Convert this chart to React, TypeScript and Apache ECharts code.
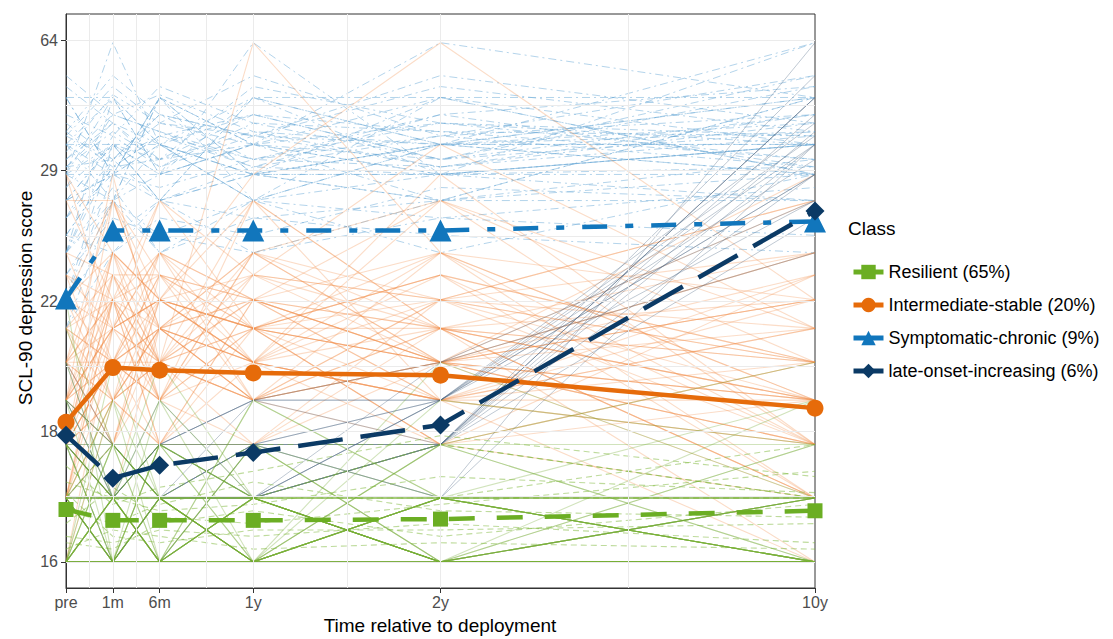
import React, { useEffect, useRef } from "react";
import * as echarts from "echarts";

// ---- axes ----
const TIME_X = [0, 1, 2, 4, 8, 16];
const TIME_LABELS = ["pre", "1m", "6m", "1y", "2y", "10y"];
const Y_TICK_LABELS = ["16", "18", "22", "29", "64"];

// transformed y scale (score -> axis units), calibrated from the reference axis
const SCALE_SCORE = [16, 17, 18, 19, 20, 21, 22, 23, 24, 27, 29, 33, 44, 64];
const SCALE_UNIT = [0, 0.49, 0.9, 1.24, 1.53, 1.79, 2.01, 2.2, 2.37, 2.77, 2.97, 3.2, 3.56, 3.98];

// ---- class mean trajectories (SCL-90 depression score) ----
const resilient = [16.82, 16.65, 16.65, 16.65, 16.67, 16.8];
const intermediate = [18.5, 19.86, 19.79, 19.72, 19.66, 18.82];
const symptomatic = [22.05, 25.28, 25.28, 25.28, 25.28, 25.8];
const lateOnset = [18.21, 17.37, 17.61, 17.85, 18.44, 26.4];

// ---- individual trajectories ----
const indivResilient = [
  [16, 16, 16, 16, 16, 16], [16, 17, 16, 16, 16, 16], [17, 16, 16, 17, 16, 16],
  [16, 16, 17, 16, 17, 17], [18, 17, 16, 16, 16, 17], [17, 17, 17, 17, 16, 16],
  [16, 18, 17, 16, 16, 16], [17, 16, 18, 17, 17, 16], [19, 17, 16, 17, 16, 18],
  [16, 16, 16, 18, 17, 17], [18, 16, 17, 16, 18, 16], [16, 17, 17, 17, 17, 17],
  [17, 18, 16, 16, 17, 19], [20, 17, 17, 16, 16, 16], [16, 19, 16, 17, 16, 16],
  [17, 17, 16, 19, 17, 16], [16, 16, 19, 17, 16, 17], [18, 18, 17, 17, 17, 16],
  [16, 17, 18, 18, 16, 17], [17, 16, 16, 16, 19, 18], [21, 18, 17, 16, 17, 16],
  [16, 20, 17, 16, 16, 17], [19, 16, 18, 16, 17, 17], [17, 17, 17, 16, 16, 19],
  [16, 16, 16, 17, 18, 20], [18, 17, 20, 17, 16, 16], [16, 18, 16, 19, 17, 17],
  [17, 16, 17, 16, 18, 18], [22, 16, 16, 17, 16, 16], [16, 17, 16, 16, 20, 17],
  [16, 16, 17, 17, 16, 16], [17, 17, 16, 16, 17, 17], [16, 18, 18, 17, 16, 16],
  [16, 17, 16, 17, 16, 17], [17, 16, 17, 16, 17, 16], [16, 16, 18, 16, 16, 18],
  [18, 17, 16, 18, 16, 16], [17, 19, 17, 16, 17, 16], [16, 16, 16, 16, 17, 16],
  [19, 18, 17, 17, 16, 17], [16, 17, 19, 16, 18, 16], [17, 16, 16, 18, 16, 17],
  [18, 16, 18, 17, 17, 16],
];
const indivResilientDashed = [
  [17, 17, 17, 17, 18, 17], [16, 17, 16, 17, 17, 16], [18, 17, 17, 18, 18, 17],
  [17, 16, 16, 16, 17, 17], [16, 16, 17, 17, 16, 16], [17, 18, 17, 17, 17, 18],
  [18, 16, 16, 17, 17, 16], [16, 17, 17, 16, 17, 17], [17, 17, 18, 17, 16, 16],
  [16.4, 16.3, 16.5, 16.4, 16.6, 16.3], [16.8, 16.6, 16.9, 17.3, 16.8, 16.7],
  [17.3, 17, 16.8, 16.9, 17.4, 17.1], [16.2, 16.5, 16.4, 16.2, 16.3, 16.2],
  [16.6, 17.2, 16.7, 16.6, 16.9, 17.5], [17.6, 16.9, 17.2, 17.5, 18.2, 17.4],
  [16.3, 16.2, 16.6, 16.8, 16.4, 16.9], [17.1, 16.4, 16.3, 16.5, 16.5, 16.6],
];
const indivIntermediate = [
  [18, 20, 21, 19, 20, 18], [20, 22, 19, 21, 18, 19], [17, 19, 20, 22, 21, 17],
  [19, 21, 22, 20, 19, 20], [18, 24, 20, 19, 22, 18], [21, 20, 23, 21, 20, 21],
  [17, 22, 19, 24, 21, 19], [18, 19, 24, 20, 23, 17], [22, 21, 20, 27, 19, 18],
  [19, 23, 21, 19, 24, 22], [20, 18, 22, 21, 20, 24], [18, 27, 21, 20, 19, 19],
  [17, 20, 18, 22, 27, 18], [23, 19, 20, 23, 21, 20], [19, 21, 27, 21, 18, 17],
  [18, 17, 21, 19, 22, 27], [20, 24, 19, 18, 21, 19], [16, 21, 22, 21, 20, 18],
  [21, 22, 18, 20, 19, 21], [18, 20, 20, 24, 20, 23], [17, 23, 19, 21, 21, 17],
  [24, 20, 21, 19, 18, 20], [19, 18, 23, 22, 20, 19], [18, 22, 20, 64, 24, 19],
  [20, 21, 22, 29, 64, 22], [17, 19, 21, 20, 29, 18], [19, 29, 20, 21, 22, 20],
  [18, 20, 19, 23, 33, 21], [22, 24, 22, 20, 21, 16], [16, 19, 21, 22, 19, 22],
  [20, 18, 20, 21, 23, 18], [18, 21, 24, 19, 20, 27], [21, 20, 19, 27, 21, 17],
  [17, 22, 21, 20, 18, 20], [19, 20, 22, 21, 24, 19], [27, 22, 20, 19, 20, 18],
  [18, 23, 23, 20, 19, 16], [20, 19, 18, 18, 22, 21], [29, 21, 24, 22, 20, 19],
  [21, 19, 22, 23, 20, 24], [19, 24, 21, 20, 27, 21], [17, 18, 22, 20, 19, 23],
  [22, 20, 24, 22, 21, 19], [18, 22, 18, 21, 23, 20], [20, 27, 23, 19, 20, 22],
  [19, 20, 19, 24, 22, 27], [23, 21, 22, 20, 24, 18], [18, 19, 20, 19, 21, 24],
  [24, 23, 20, 22, 19, 21], [20, 22, 27, 23, 22, 19], [17, 21, 20, 18, 20, 22],
  [21, 18, 21, 24, 27, 20], [19, 22, 23, 21, 18, 23], [22, 19, 18, 22, 24, 17],
  [18, 24, 22, 27, 21, 20], [20, 20, 21, 22, 20, 29], [27, 27, 22, 21, 23, 20],
  [19, 21, 19, 20, 22, 24], [23, 22, 24, 21, 19, 18], [21, 23, 20, 19, 21, 22],
  [18, 20, 23, 22, 20, 17], [20, 19, 21, 23, 22, 20], [22, 27, 21, 24, 20, 22],
  [29, 24, 22, 21, 20, 19],
];
const indivSymptomatic = [
  [22, 29, 33, 27, 29, 33], [27, 33, 29, 44, 33, 29], [33, 27, 44, 29, 27, 44],
  [24, 44, 29, 33, 44, 33], [29, 33, 27, 29, 29, 64], [44, 29, 33, 27, 33, 29],
  [22, 27, 44, 33, 29, 27], [33, 44, 29, 29, 44, 44], [27, 29, 27, 44, 33, 33],
  [29, 64, 33, 29, 27, 29], [24, 33, 29, 33, 64, 44], [44, 44, 33, 44, 29, 33],
  [33, 29, 44, 29, 33, 64], [27, 33, 33, 27, 44, 29], [29, 27, 29, 64, 29, 33],
  [22, 33, 27, 29, 33, 44], [44, 29, 44, 33, 29, 29], [29, 44, 33, 29, 33, 33],
  [27, 29, 29, 33, 27, 44], [33, 33, 27, 44, 44, 29], [23, 27, 33, 29, 29, 33],
  [29, 29, 44, 27, 33, 44], [21, 24, 27, 24, 27, 27], [24, 27, 24, 27, 24, 29],
  [26, 31, 38, 35, 30, 40], [31, 38, 30, 35, 48, 36], [25, 30, 35, 40, 31, 52],
  [36, 52, 40, 31, 35, 30], [30, 36, 31, 48, 38, 35], [28, 40, 45, 36, 30, 38],
  [38, 31, 35, 30, 40, 48], [26, 35, 30, 38, 36, 31], [35, 48, 38, 33, 31, 40],
  [30, 31, 40, 35, 52, 38], [48, 38, 31, 40, 36, 35], [31, 40, 36, 30, 35, 52],
  [25, 30, 31, 33, 38, 31], [40, 35, 48, 38, 31, 36], [36, 30, 35, 31, 40, 30],
  [32, 45, 38, 52, 35, 40], [28, 33, 31, 36, 33, 38], [52, 40, 36, 31, 38, 33],
  [30, 38, 33, 40, 31, 48], [35, 31, 40, 35, 33, 36], [26, 29, 28, 31, 30, 35],
  [24, 31, 27, 30, 29, 30], [23, 26, 25, 27, 26, 28], [22, 25, 27, 26, 25, 24],
  [25, 24, 26, 25, 28, 27], [21, 27, 25, 24, 26, 25], [24, 28, 24, 26, 27, 31],
];
const indivLateOnset = [
  [18, 17, 17, 18, 19, 33], [17, 16, 17, 17, 18, 29], [19, 18, 17, 18, 18, 44],
  [18, 17, 18, 17, 19, 27], [17, 17, 16, 18, 17, 33], [20, 17, 18, 19, 18, 44],
  [18, 16, 17, 17, 19, 29], [16, 17, 18, 18, 18, 33], [19, 18, 17, 17, 20, 27],
  [17, 16, 17, 18, 17, 64], [18, 17, 19, 17, 18, 44], [20, 18, 18, 19, 19, 29],
  [17, 17, 18, 17, 19, 38], [19, 17, 17, 18, 18, 52], [18, 18, 17, 19, 20, 24],
  [16, 16, 17, 17, 18, 36], [18, 17, 18, 18, 19, 31], [17, 18, 17, 17, 18, 40],
  [19, 17, 18, 19, 19, 35], [17, 16, 16, 17, 18, 26],
];

// ---- styles ----
const C_GREEN = "#6BAE23";
const C_ORANGE = "#E66B0A";
const C_BLUE = "#1176BC";
const C_NAVY = "#0B3A65";
const FONT = "'Liberation Sans', Arial, Helvetica, sans-serif";

function toUnit(s: number): number {
  if (s <= SCALE_SCORE[0]) return SCALE_UNIT[0];
  for (let i = 1; i < SCALE_SCORE.length; i++) {
    if (s <= SCALE_SCORE[i]) {
      const a = SCALE_SCORE[i - 1], b = SCALE_SCORE[i];
      return SCALE_UNIT[i - 1] + ((s - a) / (b - a)) * (SCALE_UNIT[i] - SCALE_UNIT[i - 1]);
    }
  }
  return SCALE_UNIT[SCALE_UNIT.length - 1];
}

const toPoints = (vals: number[]) => TIME_X.map((x, i) => [x, toUnit(vals[i])]);

function bgSeries(list: number[][], key: string, color: string, opacity: number, type: any, width: number) {
  return list.map((vals, i) => ({
    name: `${key}-${i}`,
    type: "line",
    data: toPoints(vals),
    symbol: "none",
    silent: true,
    z: 2,
    lineStyle: { color, opacity, width, type },
  }));
}

const MAIN = [
  { name: "Resilient (65%)", data: resilient, color: C_GREEN, symbol: "rect", size: 15, dash: [26, 22] as any },
  { name: "Intermediate-stable (20%)", data: intermediate, color: C_ORANGE, symbol: "circle", size: 17, dash: "solid" as any },
  { name: "Symptomatic-chronic (9%)", data: symptomatic, color: C_BLUE, symbol: "triangle", size: 22, dash: [25, 18, 8, 18] as any },
  { name: "late-onset-increasing (6%)", data: lateOnset, color: C_NAVY, symbol: "diamond", size: 19, dash: [45, 18] as any },
];

const X_GRID = [0.5, 1, 1.5, 2, 3, 4, 6, 8, 12];
const Y_GRID = [0, 0.5, 1, 1.5, 2, 2.5, 3, 3.5, 4];

export default function App() {
  const ref = useRef<HTMLDivElement>(null);
  useEffect(() => {
    const chart = echarts.init(ref.current!, null, { renderer: "svg" });
    const series: any[] = [
      {
        name: "grid",
        type: "line",
        data: [[0, -0.2]],
        symbol: "none",
        silent: true,
        z: 1,
        lineStyle: { opacity: 0 },
        markLine: {
          silent: true,
          symbol: ["none", "none"],
          label: { show: false },
          lineStyle: { color: "#EBEBEB", width: 1, type: "solid" },
          data: [
            ...X_GRID.map((v) => ({ xAxis: v })),
            ...Y_GRID.map((v) => ({ yAxis: v })),
          ],
        },
      },
      ...bgSeries(indivSymptomatic, "sc", "#6AAAD8", 0.5, [8, 4, 2, 4], 1),
      ...bgSeries(indivIntermediate, "is", "#F28C44", 0.3, "solid", 1.1),
      ...bgSeries(indivLateOnset, "lo", "#4A6580", 0.35, "solid", 1),
      ...bgSeries(indivResilient, "rs", "#6FA82E", 0.32, "solid", 1.1),
      ...bgSeries(indivResilientDashed, "rd", "#7DB83A", 0.5, [6, 4], 1.1),
      ...MAIN.map((m) => ({
        name: m.name,
        type: "line",
        data: toPoints(m.data),
        symbol: m.symbol,
        symbolSize: m.size,
        showSymbol: true,
        z: 10,
        itemStyle: { color: m.color, opacity: 1 },
        lineStyle: { color: m.color, width: 4.5, type: m.dash },
      })),
    ];

    chart.setOption({
      animation: false,
      backgroundColor: "#ffffff",
      textStyle: { fontFamily: FONT },
      grid: {
        left: 66,
        right: 298,
        top: 14,
        bottom: 51,
        show: true,
        borderColor: "#333333",
        borderWidth: 1,
        backgroundColor: "transparent",
        containLabel: false,
      },
      xAxis: {
        type: "value",
        min: 0,
        max: 16,
        axisLine: { show: true, onZero: false, lineStyle: { color: "#333333", width: 1 } },
        axisTick: { show: true, customValues: TIME_X, length: 5, lineStyle: { color: "#333333" } },
        axisLabel: {
          show: true,
          customValues: TIME_X,
          formatter: (v: number) => TIME_LABELS[TIME_X.indexOf(v)] ?? "",
          color: "#4D4D4D",
          fontSize: 16,
          margin: 6,
          fontFamily: FONT,
        },
        splitLine: { show: false },
      },
      yAxis: {
        type: "value",
        min: -0.2,
        max: 4.2,
        axisLine: { show: true, onZero: false, lineStyle: { color: "#333333", width: 1 } },
        axisTick: { show: true, customValues: [0, 1, 2, 3, 4], length: 5, lineStyle: { color: "#333333" } },
        axisLabel: {
          show: true,
          customValues: [0, 1, 2, 3, 4],
          formatter: (v: number) => Y_TICK_LABELS[Math.round(v)] ?? "",
          color: "#4D4D4D",
          fontSize: 16,
          margin: 8,
          fontFamily: FONT,
        },
        splitLine: { show: false },
      },
      legend: {
        data: MAIN.map((m) => m.name),
        orient: "vertical",
        left: 846,
        top: 258,
        itemWidth: 30,
        itemHeight: 18,
        itemGap: 15,
        selectedMode: false,
        lineStyle: { type: "solid", width: 5 },
        textStyle: { fontSize: 18, color: "#000000", fontFamily: FONT },
      },
      graphic: [
        {
          type: "text",
          left: 848,
          top: 219,
          style: { text: "Class", fontSize: 19, fill: "#000000", font: `19px ${FONT}` },
        },
        {
          type: "text",
          x: 440,
          y: 625,
          style: {
            text: "Time relative to deployment",
            fill: "#000000",
            font: `19px ${FONT}`,
            align: "center",
            verticalAlign: "middle",
          },
        },
        {
          type: "text",
          x: 25,
          y: 298,
          rotation: Math.PI / 2,
          style: {
            text: "SCL-90 depression score",
            fill: "#000000",
            font: `19px ${FONT}`,
            align: "center",
            verticalAlign: "middle",
          },
        },
      ],
      series,
    });
    return () => chart.dispose();
  }, []);
  return <div ref={ref} style={{ position: "fixed", left: 0, top: 0, width: 1113, height: 639 }} />;
}
